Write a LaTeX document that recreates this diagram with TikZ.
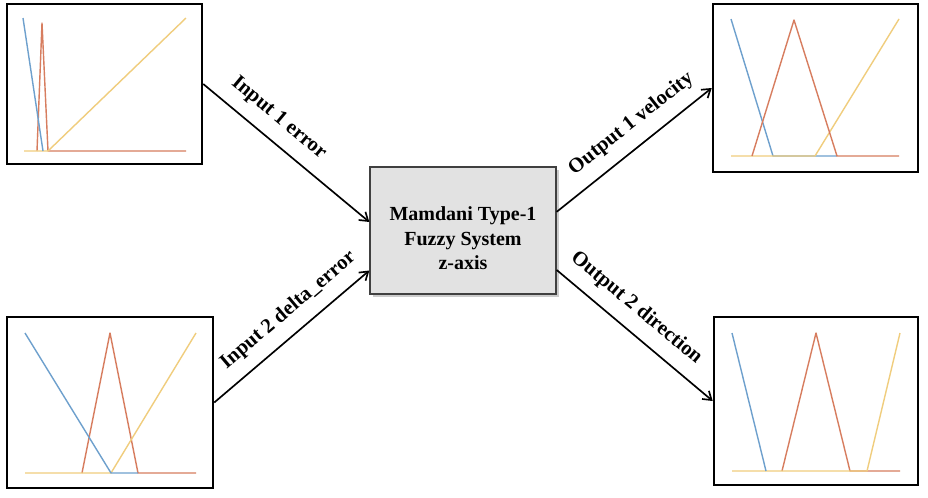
\documentclass[tikz,border=0pt]{standalone}
\usepackage{fontspec}
\setmainfont{Liberation Serif}
\usetikzlibrary{arrows.meta,shadows}

\definecolor{mfblue}{RGB}{110,160,205}
\definecolor{mfred}{RGB}{215,125,95}
\definecolor{mfyellow}{RGB}{240,205,125}
\definecolor{fisgray}{RGB}{226,226,226}

\tikzset{
  plotbox/.style={draw=black, line width=1.9pt, inner sep=0pt, fill=white},
  fisbox/.style={draw=black!75, line width=1pt, fill=fisgray, inner sep=0pt,
    minimum width=139.5pt, minimum height=95.25pt,
    drop shadow={shadow xshift=2pt, shadow yshift=-2pt, opacity=0.4}},
  mf/.style={line width=1.05pt, line join=round},
  flow/.style={line width=1.25pt, -{Straight Barb[length=6pt,width=8pt]}},
  flowlabel/.style={anchor=south, inner xsep=1.5pt, inner ysep=9pt,
    font=\bfseries\fontsize{15.5}{17}\selectfont}
}

\begin{document}
\begin{tikzpicture}[x=0.75pt,y=0.75pt,yscale=-1,xscale=1]
  \useasboundingbox (0,0) rectangle (928,497);

  % membership plot frames
  \node [plotbox, minimum width=146.25pt, minimum height=120pt]  (inerr)  at (104.5,84)  {};
  \node [plotbox, minimum width=154.5pt,  minimum height=128.25pt] (indelta) at (110,402.5) {};
  \node [plotbox, minimum width=153.75pt, minimum height=126pt]  (outvel) at (815.5,88)  {};
  \node [plotbox, minimum width=153pt,    minimum height=126pt]  (outdir) at (816,401)  {};

  % fuzzy system block
  \node [fisbox] (fis) at (463,230.5) {};
  \node [align=center, inner sep=0pt, font=\bfseries\fontsize{15}{18.4}\selectfont]
    (fistext) at ([yshift=6pt]fis.center) {Mamdani Type-1\\Fuzzy System\\z-axis};

  % Input 1 error
  \draw [mf, mfred]    (37,151) -- (42,23) -- (48,151) -- (186,151);
  \draw [mf, mfyellow] (24,151) -- (48,151) -- (186,18);
  \draw [mf, mfblue]   (23,18) -- (43,151);

  % Input 2 delta_error
  \draw [mf, mfred]    (82,473) -- (110,333) -- (138,473) -- (196,473);
  \draw [mf, mfyellow] (25,473) -- (111,473) -- (196,333);
  \draw [mf, mfblue]   (25,333) -- (111,473) -- (138,473);

  % Output 1 velocity
  \draw [mf, mfblue]   (731,19) -- (773,156) -- (837,156);
  \draw [mf, mfyellow] (731,156) -- (815,156) -- (899,19);
  \draw [mf, mfred]    (752,156) -- (794,20) -- (837,156) -- (899,156);

  % Output 2 direction
  \draw [mf, mfred]    (782,471) -- (816,333) -- (850,471) -- (900,471);
  \draw [mf, mfyellow] (732,471) -- (867,471) -- (900,333);
  \draw [mf, mfblue]   (732,333) -- (766,471);

  % connectors (yshift runs downwards here, since yscale=-1)
  \draw [flow] (inerr.east) -- ([yshift=-6.4pt]fis.west)
    node [flowlabel, pos=0.37, rotate=-39.9] {Input 1 error};
  \draw [flow] (indelta.east) -- ([yshift=30pt]fis.west)
    node [flowlabel, pos=0.57, rotate=40.4] {Input 2 delta\_error};
  \draw [flow] ([yshift=-14pt]fis.east) -- (outvel.west)
    node [flowlabel, pos=0.57, rotate=38.3] {Output 1 velocity};
  \draw [flow] ([yshift=29.6pt]fis.east) -- (outdir.west)
    node [flowlabel, pos=0.42, rotate=-39.7] {Output 2 direction};
\end{tikzpicture}
\end{document}
